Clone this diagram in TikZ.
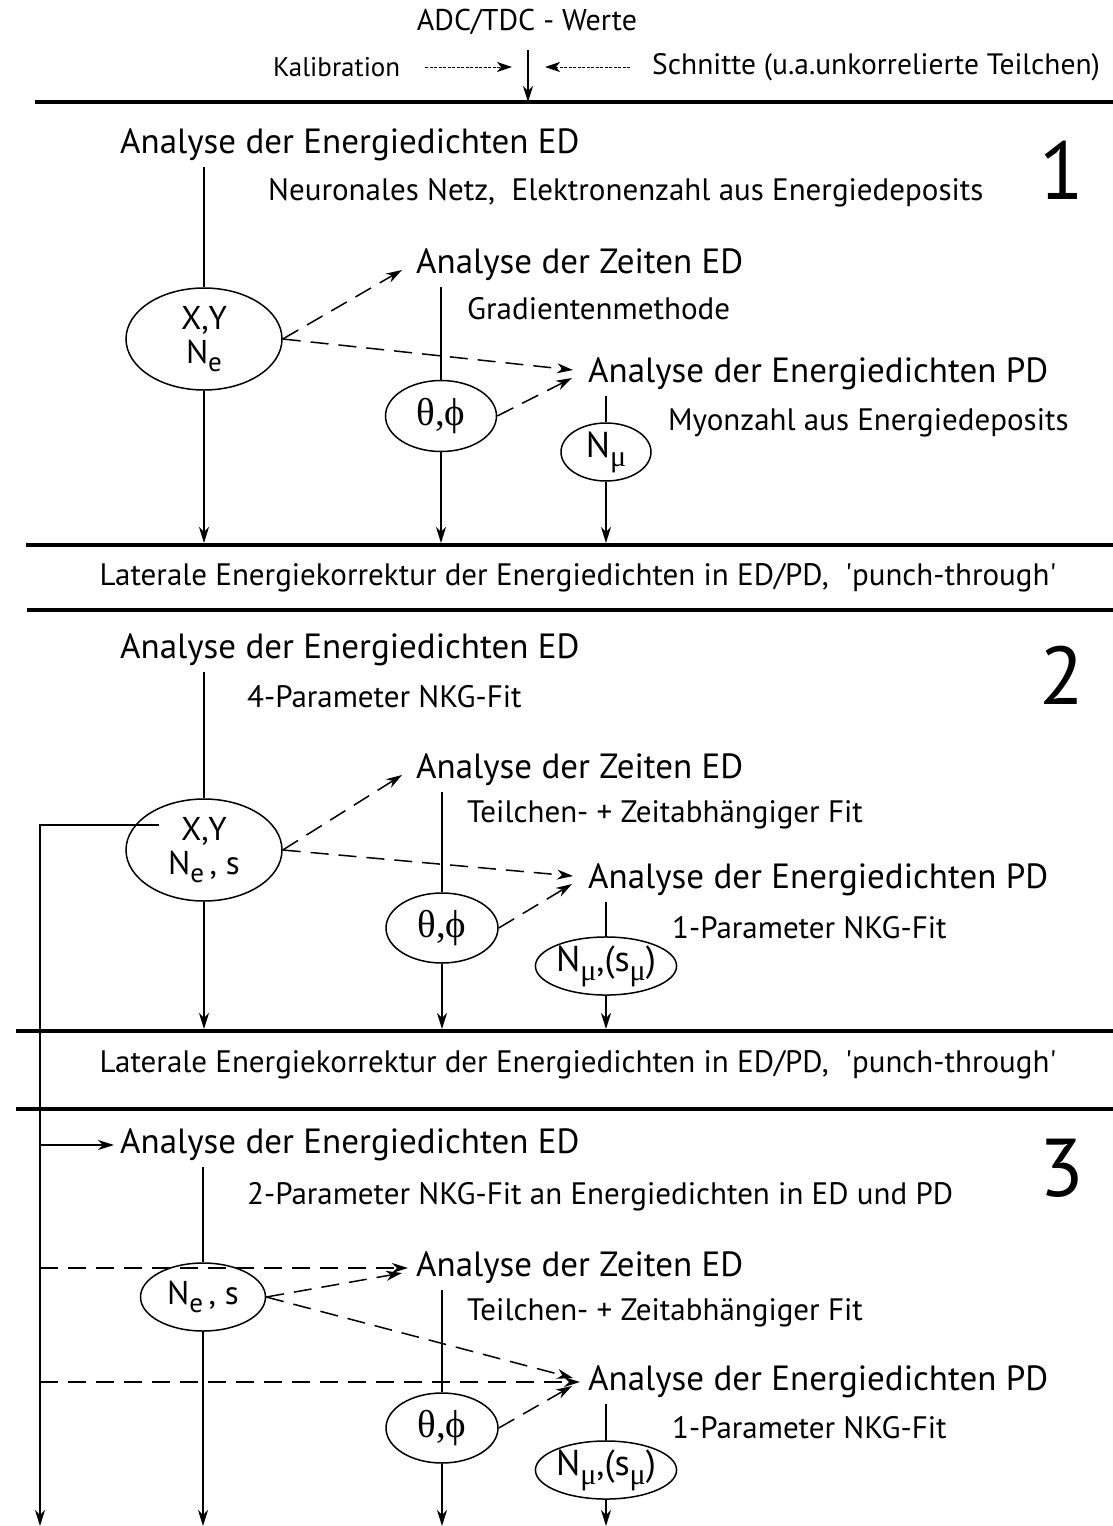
\documentclass[tikz,border=0pt]{standalone}
\usepackage{fontspec}
\setmainfont{PT Sans}
\newfontfamily\grk{Liberation Serif}
\usetikzlibrary{arrows.meta,shapes.geometric}
\newcommand\dnx[1]{\raisebox{-0.5ex}{\fontsize{27}{29}\selectfont #1}}
\newcommand\gdn[1]{\raisebox{-0.5ex}{\fontsize{30}{32}\selectfont\grk #1}}
\begin{document}
\begin{tikzpicture}[x=1pt,y=-1pt,
  big/.style={font=\fontsize{35}{40}\selectfont, inner sep=0pt},
  top/.style={font=\fontsize{30}{36}\selectfont, inner sep=0pt},
  mid/.style={font=\fontsize{31}{36}\selectfont, inner sep=0pt},
  sml/.style={font=\fontsize{27}{31}\selectfont, inner sep=0pt},
  num/.style={font=\fontsize{82}{90}\selectfont, inner sep=0pt},
  ell/.style={draw, ellipse, line width=1.5pt, inner sep=0pt, align=center, font=\fontsize{33}{36}\selectfont},
  gell/.style={ell, font=\fontsize{39}{42}\selectfont\grk},
  muell/.style={ell, font=\fontsize{36}{40}\selectfont},
  ln/.style={line width=1.5pt},
  sep/.style={line width=3.5pt},
  arr/.style={line width=1.5pt, -{Stealth[length=16pt,width=10pt,inset=5pt]}},
  darr/.style={arr, dash pattern=on 18pt off 10pt},
  farr/.style={line width=1pt, dash pattern=on 3pt off 1.5pt, -{Stealth[length=15pt,width=10pt,inset=4pt]}}
]
\useasboundingbox (0,0) rectangle (1113,1526);

% ---------- header ----------
\node[top] (adc) at (527,22) {ADC/TDC - Werte};
\node[sml, anchor=west] (kal) at (273,67) {Kalibration};
\node[sml, anchor=west, font=\fontsize{29.5}{33}\selectfont] (sch) at (652,67) {Schnitte (u.a.unkorrelierte Teilchen)};
\coordinate (topc) at (528,50);
\coordinate (l0L) at (35,102);
\coordinate (l0R) at (1113,102);
\coordinate (kalS) at (425,67);
\coordinate (kalT) at (512,67);
\coordinate (schS) at (630,67);
\coordinate (schT) at (545,67);
\draw[sep] (l0L) -- (l0R);
\draw[arr] (topc) -- (topc |- l0L);
\draw[farr] (kalS) -- (kalT);
\draw[farr] (schS) -- (schT);

% ---------- section 1 ----------
\node[big, anchor=west] (ed1) at (120,145) {Analyse der Energiedichten ED};
\node[num] (n1) at (1062,170) {1};
\node[mid, anchor=west] (nn1) at (268,193) {Neuronales Netz,\ \ Elektronenzahl aus Energiedeposits};
\node[ell, minimum width=156pt, minimum height=102pt] (xy1) at (204,339) {X,Y\\[-2pt]N\dnx{e}};
\node[big, anchor=west] (ze1) at (416,265) {Analyse der Zeiten ED};
\node[mid, anchor=west] (gm1) at (467,309) {Gradientenmethode};
\node[gell, minimum width=111pt, minimum height=71pt] (th1) at (441,416) {θ,ϕ};
\node[big, anchor=west] (pd1) at (588,374) {Analyse der Energiedichten PD};
\node[mid, anchor=west] (mz1) at (668,423) {Myonzahl aus Energiedeposits};
\node[muell, minimum width=90pt, minimum height=50pt] (mu1) at (606,452) {N\gdn{μ}};
\coordinate (l1L) at (26,545);
\coordinate (l1R) at (1113,545);
\draw[sep] (l1L) -- (l1R);
\draw[ln] ([yshift=-6pt]xy1.north |- ed1.south) -- (xy1.north);
\draw[arr, shorten >=2pt] (xy1.south) -- (xy1.south |- l1L);
\draw[ln] ([yshift=-6pt]th1.north |- ze1.south) -- (th1.north);
\draw[arr, shorten >=2pt] (th1.south) -- (th1.south |- l1L);
\draw[ln] ([yshift=-6pt]mu1.north |- pd1.south) -- (mu1.north);
\draw[arr, shorten >=2pt] (mu1.south) -- (mu1.south |- l1L);
\draw[darr] (xy1.east) -- ([xshift=-14pt,yshift=-5pt]ze1.west);
\draw[darr] (xy1.east) -- ([xshift=-15pt,yshift=4pt]pd1.west);
\draw[darr] (th1.east) -- ([xshift=-16pt,yshift=-4pt]pd1.west);

\node[mid] (lat1) at (578,578) {Laterale Energiekorrektur der Energiedichten in ED/PD,\ \ \textquotesingle punch-through\textquotesingle};
\coordinate (l2L) at (27,610);
\coordinate (l2R) at (1113,610);
\draw[sep] (l2L) -- (l2R);

% ---------- section 2 ----------
\node[big, anchor=west] (ed2) at (120,650) {Analyse der Energiedichten ED};
\node[num] (n2) at (1062,675) {2};
\node[mid, anchor=west] (nk2) at (247,697) {4-Parameter NKG-Fit};
\node[ell, minimum width=156pt, minimum height=102pt] (xy2) at (204,850) {X,Y\\[-2pt]N\dnx{e}\,, s};
\node[big, anchor=west] (ze2) at (416,770) {Analyse der Zeiten ED};
\node[mid, anchor=west] (tz2) at (467,815) {Teilchen- + Zeitabhängiger Fit};
\node[gell, minimum width=112pt, minimum height=70pt] (th2) at (442,928) {θ,ϕ};
\node[big, anchor=west] (pd2) at (588,880) {Analyse der Energiedichten PD};
\node[mid, anchor=west] (nk2b) at (672,928) {1-Parameter NKG-Fit};
\node[muell, minimum width=140pt, minimum height=44pt] (mu2) at (606,966) {N\gdn{μ},(s\gdn{μ})};
\coordinate (l3L) at (16,1031);
\coordinate (l3R) at (1113,1031);
\draw[sep] (l3L) -- (l3R);
\draw[ln] ([yshift=-6pt]xy2.north |- ed2.south) -- (xy2.north);
\draw[arr, shorten >=2pt] (xy2.south) -- (xy2.south |- l3L);
\draw[ln] ([yshift=-6pt]th2.north |- ze2.south) -- (th2.north);
\draw[arr, shorten >=2pt] (th2.south) -- (th2.south |- l3L);
\draw[ln] ([yshift=-6pt]mu2.north |- pd2.south) -- (mu2.north);
\draw[arr, shorten >=2pt] (mu2.south) -- (mu2.south |- l3L);
\draw[darr] (xy2.east) -- ([xshift=-14pt,yshift=-5pt]ze2.west);
\draw[darr] (xy2.east) -- ([xshift=-15pt,yshift=4pt]pd2.west);
\draw[darr] (th2.east) -- ([xshift=-16pt,yshift=-4pt]pd2.west);

\node[mid] (lat2) at (578,1065) {Laterale Energiekorrektur der Energiedichten in ED/PD,\ \ \textquotesingle punch-through\textquotesingle};
\coordinate (l4L) at (16,1109);
\coordinate (l4R) at (1113,1109);
\draw[sep] (l4L) -- (l4R);

% ---------- section 3 ----------
\node[big, anchor=west] (ed3) at (120,1145) {Analyse der Energiedichten ED};
\node[num] (n3) at (1062,1168) {3};
\node[mid, anchor=west] (nk3) at (247,1197) {2-Parameter NKG-Fit an Energiedichten in ED und PD};
\node[ell, minimum width=125pt, minimum height=68pt] (ne3) at (203,1297) {N\dnx{e}\,, s};
\node[big, anchor=west] (ze3) at (416,1268) {Analyse der Zeiten ED};
\node[mid, anchor=west] (tz3) at (467,1313) {Teilchen- + Zeitabhängiger Fit};
\node[gell, minimum width=112pt, minimum height=70pt] (th3) at (442,1428) {θ,ϕ};
\node[big, anchor=west] (pd3) at (588,1382) {Analyse der Energiedichten PD};
\node[mid, anchor=west] (nk3b) at (672,1428) {1-Parameter NKG-Fit};
\node[muell, minimum width=140pt, minimum height=44pt] (mu3) at (606,1470) {N\gdn{μ},(s\gdn{μ})};
\coordinate (bot) at (0,1526);
\draw[ln] ([yshift=-6pt]ne3.north |- ed3.south) -- (ne3.north);
\draw[arr] (ne3.south) -- (ne3.south |- bot);
\draw[ln] ([yshift=-6pt]th3.north |- ze3.south) -- (th3.north);
\draw[arr] (th3.south) -- (th3.south |- bot);
\draw[ln] ([yshift=-6pt]mu3.north |- pd3.south) -- (mu3.north);
\draw[arr] (mu3.south) -- (mu3.south |- bot);
\draw[darr] (ne3.east) -- ([xshift=-14pt,yshift=-5pt]ze3.west);
\draw[darr] (ne3.east) -- ([xshift=-15pt,yshift=4pt]pd3.west);
\draw[darr] (th3.east) -- ([xshift=-16pt,yshift=-4pt]pd3.west);

% ---------- feedback line ----------
\coordinate (fb) at (40,825);
\draw[ln] ([xshift=-45pt]xy2.north |- fb) -- (fb) -- (fb |- ne3.south);
\draw[arr] (fb |- ne3.south) -- (fb |- bot);
\draw[arr] (fb |- ed3.west) -- ([xshift=-6pt]ed3.west);
\draw[darr] (fb |- ze3.west) -- ([xshift=-8pt]ze3.west);
\draw[darr] (fb |- pd3.west) -- ([xshift=-8pt]pd3.west);
\end{tikzpicture}
\end{document}
